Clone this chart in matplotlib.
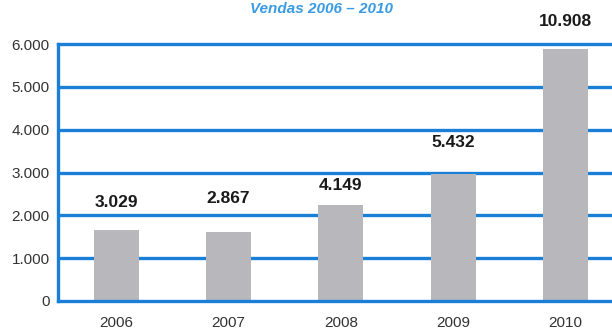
import matplotlib
matplotlib.use("Agg")
import matplotlib.pyplot as plt

years = ["2006", "2007", "2008", "2009", "2010"]
bar_heights = [1650, 1610, 2240, 2970, 5880]
value_labels = ["3.029", "2.867", "4.149", "5.432", "10.908"]
yticks = [0, 1000, 2000, 3000, 4000, 5000, 6000]
ytick_labels = ["0", "1.000", "2.000", "3.000", "4.000", "5.000", "6.000"]
title = "Vendas 2006 – 2010"

label_offsets_px = [28, 34, 20, 31, 28]

plt.rcParams['font.family'] = ['Liberation Sans', 'DejaVu Sans']
blue = "#1a7fd6"

fig = plt.figure(figsize=(6.12, 3.32), dpi=100)
ax = fig.add_axes([58/612, 1 - 301/332, 1 - 58/612 + 0.01, (301 - 44)/332])

x = list(range(len(years)))
ax.bar(x, bar_heights, width=0.4, color="#b8b8bc", zorder=3)

for yv in yticks[1:-1]:
    ax.axhline(yv, color=blue, lw=2.4, zorder=2)

ax.set_xlim(-0.52, 4.47)
ax.set_ylim(0, 6000)
ax.set_yticks(yticks)
ax.set_yticklabels(ytick_labels)
ax.set_xticks(x)
ax.set_xticklabels(years)
ax.tick_params(axis='y', length=0, pad=6, labelsize=11, labelcolor="#333333")
ax.tick_params(axis='x', length=0, pad=11, labelsize=11, labelcolor="#333333")

for s in ["left", "bottom", "top"]:
    ax.spines[s].set_color(blue)
    ax.spines[s].set_linewidth(2.4)
    ax.spines[s].set_zorder(4)
ax.spines["right"].set_visible(False)

for xi, h, lab, off in zip(x, bar_heights, value_labels, label_offsets_px):
    ax.annotate(lab, (xi, h), xytext=(0, off * 72 / 100), textcoords="offset points",
                ha="center", va="center", fontsize=12.5, fontweight="bold",
                color="#1a1a1a", annotation_clip=False)

fig.text(322/612, 1 - 2/332, title, ha="center", va="top", fontsize=11,
         fontweight="bold", fontstyle="italic", color="#3a9be3")

fig.savefig("out.png", dpi=100)
